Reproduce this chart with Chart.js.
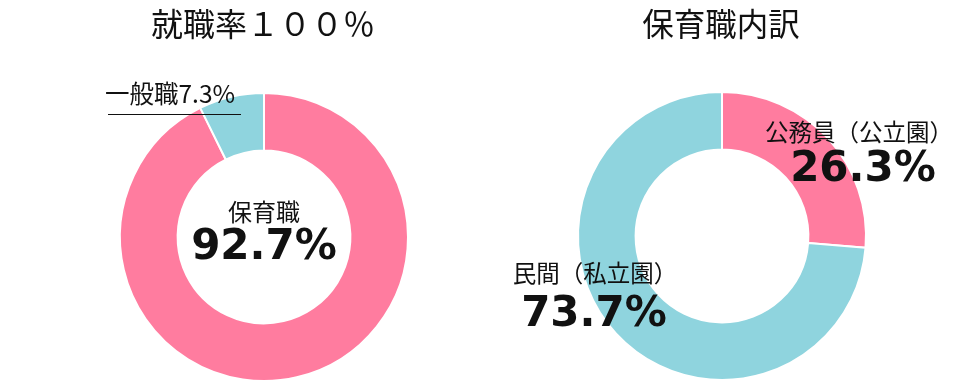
<!DOCTYPE html>
<html>
<head>
<meta charset="utf-8">
<script src="https://cdn.jsdelivr.net/npm/chart.js@4"></script>
<style>
  body { margin: 0; background: #fff; }
  #wrap { position: relative; width: 977px; height: 392px; }
  canvas { position: absolute; top: 0; }
  #left { left: 0; }
  #right { left: 488px; }
</style>
</head>
<body>
<div id="wrap">
  <canvas id="left" width="488" height="392"></canvas>
  <canvas id="right" width="489" height="392"></canvas>
</div>
<script>
"use strict"

const titles = ["就職率１００％", "保育職内訳"];
const jobLabels = ["保育職", "一般職"];
const jobValues = [92.7, 7.3];
const nurseryLabels = ["公務員（公立園）", "民間（私立園）"];
const nurseryValues = [26.3, 73.7];
const pieColors = ["#ff7c9f", "#8fd4de"];

const jpFont = "\"Noto Sans CJK JP\", \"Noto Sans\", sans-serif";
const numFont = "\"DejaVu Sans\", sans-serif";

const centerOf = (chart) => {
    const arc = chart.getDatasetMeta(0).data[0];
    return { x: arc.x, y: arc.y };
};

const drawText = (ctx, text, x, y, font, align) => {
    ctx.font = font;
    ctx.textAlign = align || "center";
    ctx.textBaseline = "middle";
    ctx.fillStyle = "#111";
    ctx.fillText(text, x, y);
};

const leftText = {
    id: "leftText",
    afterDraw(chart) {
        const ctx = chart.ctx;
        const c = centerOf(chart);
        ctx.save();
        drawText(ctx, titles[0], c.x - 1, 24, "32px " + jpFont);
        drawText(ctx, jobLabels[0], c.x, c.y - 25, "24px " + jpFont);
        drawText(ctx, jobValues[0] + "%", c.x, c.y + 11, "bold 42px " + numFont);
        drawText(ctx, jobLabels[1] + jobValues[1] + "%", c.x - 159, c.y - 143, "24.5px " + jpFont, "left");
        // leader line under the small label
        ctx.strokeStyle = "#111";
        ctx.lineWidth = 1;
        ctx.beginPath();
        ctx.moveTo(c.x - 156, c.y - 122.5);
        ctx.lineTo(c.x - 23, c.y - 122.5);
        ctx.stroke();
        ctx.restore();
    }
};

const rightText = {
    id: "rightText",
    afterDraw(chart) {
        const ctx = chart.ctx;
        const c = centerOf(chart);
        ctx.save();
        drawText(ctx, titles[1], c.x - 1, 24, "31.5px " + jpFont);
        drawText(ctx, nurseryLabels[0], c.x + 137, c.y - 104, "23.5px " + jpFont);
        drawText(ctx, nurseryValues[0] + "%", c.x + 141, c.y - 66, "bold 42px " + numFont);
        drawText(ctx, nurseryLabels[1], c.x - 127, c.y + 37, "23.5px " + jpFont);
        drawText(ctx, nurseryValues[1] + "%", c.x - 128, c.y + 79, "bold 42px " + numFont);
        ctx.restore();
    }
};

const makeDoughnut = (id, labels, values, padding, plugin) => {
    new Chart(document.getElementById(id), {
        type: "doughnut",
        data: {
            labels: labels,
            datasets: [{
                data: values,
                backgroundColor: pieColors,
                borderColor: "#fff",
                borderWidth: 2
            }]
        },
        options: {
            responsive: false,
            animation: false,
            cutout: "60%",
            layout: { padding: padding },
            plugins: {
                legend: { display: false },
                tooltip: { enabled: false }
            }
        },
        plugins: [plugin]
    });
};

makeDoughnut("left", jobLabels, jobValues, { left: 119, right: 79, top: 92, bottom: 10 }, leftText);
makeDoughnut("right", nurseryLabels, nurseryValues, { left: 89, right: 110, top: 91, bottom: 11 }, rightText);
</script>
</body>
</html>
